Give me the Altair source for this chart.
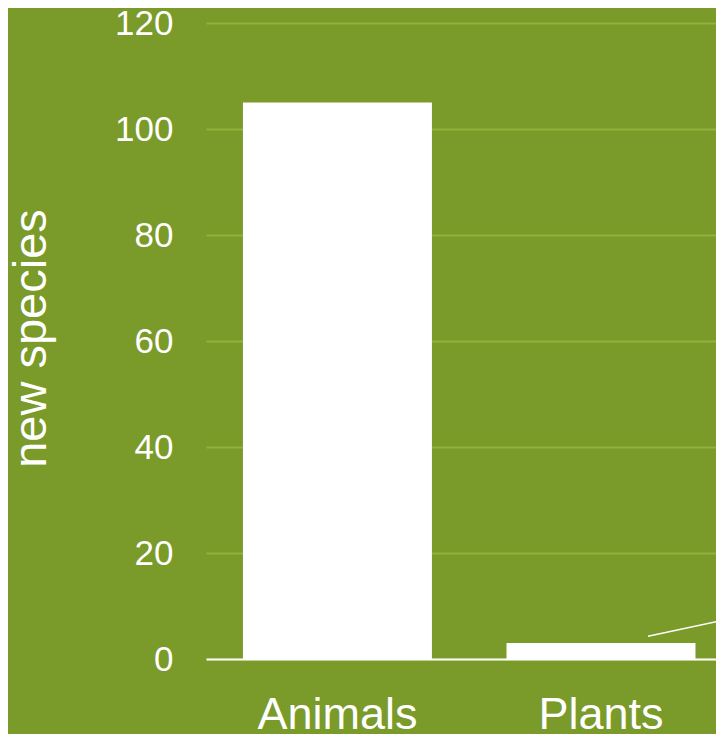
import altair as alt
import pandas as pd

# ---- data ----
categories = ["Animals", "Plants"]
new_species = [105, 3]
y_ticks = [0, 20, 40, 60, 80, 100, 120]
leader_group = ["Plants"]
leader_start = [4.3]
leader_end = [8.8]

BG = "#7A9A29"
GRID = "#8DB43B"
FONT = "Liberation Sans"

df = pd.DataFrame({"group": categories, "count": new_species})
lead = pd.DataFrame({"group": leader_group, "y": leader_start, "y2": leader_end})

x_scale = alt.Scale(domain=categories, paddingInner=0.283, paddingOuter=0.109, align=0.643)
y_scale = alt.Scale(domain=[0, 120], nice=False)

x_axis = alt.Axis(
    title=None,
    labelAngle=0,
    labelFont=FONT,
    labelFontSize=45,
    labelColor="white",
    labelPadding=33,
    ticks=False,
    grid=False,
    domainColor="white",
    domainWidth=2,
)

y_axis = alt.Axis(
    title="new species",
    values=y_ticks,
    labelFont=FONT,
    labelFontSize=35,
    labelColor="white",
    labelPadding=33,
    ticks=False,
    domain=False,
    grid=True,
    gridColor=GRID,
    gridWidth=2,
    titleFont=FONT,
    titleFontSize=47,
    titleFontWeight="normal",
    titleColor="white",
    titleAngle=270,
    titleBaseline="alphabetic",
    titleAlign="center",
    titleX=-161,
    titleY=315,
)

bars = alt.Chart(df).mark_bar(color="white").encode(
    x=alt.X("group:N", scale=x_scale, sort=categories, axis=x_axis),
    y=alt.Y("count:Q", scale=y_scale, axis=y_axis),
)

leader = alt.Chart(lead).mark_rule(color="white", strokeWidth=1.5, xOffset=47, x2Offset=160).encode(
    x=alt.X("group:N", scale=x_scale, sort=categories, axis=x_axis),
    x2="group:N",
    y=alt.Y("y:Q", scale=y_scale, axis=y_axis),
    y2="y2:Q",
)

chart = (
    alt.layer(bars, leader)
    .properties(
        width=510,
        height=636,
        background=BG,
        padding={"left": 198, "top": 15, "right": 0, "bottom": 75},
        autosize=alt.AutoSizeParams(type="none"),
    )
    .configure_view(stroke=None)
)

chart.save("out.html", embed_options={"renderer": "svg", "actions": False})
